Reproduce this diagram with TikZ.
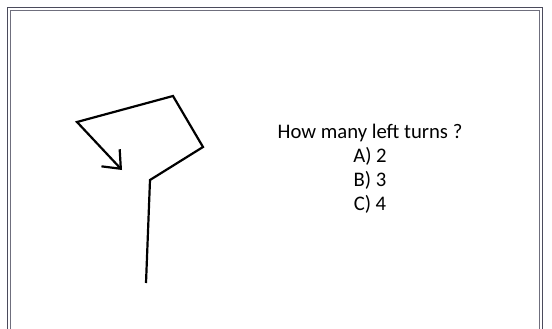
\documentclass[tikz,border=0pt]{standalone}
\usepackage{fontspec}
\setmainfont{Carlito}
\usepackage{tikz}
\usetikzlibrary{arrows.meta}

\definecolor{framegray}{RGB}{75,75,92}

\tikzset{
  framerule/.style={draw=framegray, line width=1.3pt},
  turnpath/.style={line width=2.2pt, line join=miter, line cap=butt,
    -{Straight Barb[length=15pt,width=25pt,line width=2.2pt]}},
  qtext/.style={anchor=base, font=\fontsize{20.7}{24}\selectfont, inner sep=0pt}
}

\begin{document}
\begin{tikzpicture}[x=1pt,y=-1pt]
\useasboundingbox (0,0) rectangle (552,329);
\fill[white] (0,0) rectangle (552,329);

% ===================== frame (double rule, open at the bottom) =====================
\draw[framerule] (7.5,335) -- (7.5,7.5) -- (542.5,7.5) -- (542.5,335);
\draw[framerule,draw=framegray!80] (10.5,335) -- (10.5,10.5) -- (539.5,10.5) -- (539.5,335);

% ===================== walked path =====================
\coordinate (start) at (146,283);
\coordinate (bend)  at (150,180);
\coordinate (east)  at (203,147);
\coordinate (north) at (173,96);
\coordinate (west)  at (77,122);
\coordinate (tip)   at (122,170);

\draw[turnpath] (start) -- (bend) -- (east) -- (north) -- (west) -- (tip);

% ===================== question =====================
\node[qtext] (title) at (370,138) {How many left turns ?};
\node[qtext] (optA)  at (370,162) {A) 2};
\node[qtext] (optB)  at (370,186) {B) 3};
\node[qtext] (optC)  at (370,210) {C) 4};

\end{tikzpicture}
\end{document}
